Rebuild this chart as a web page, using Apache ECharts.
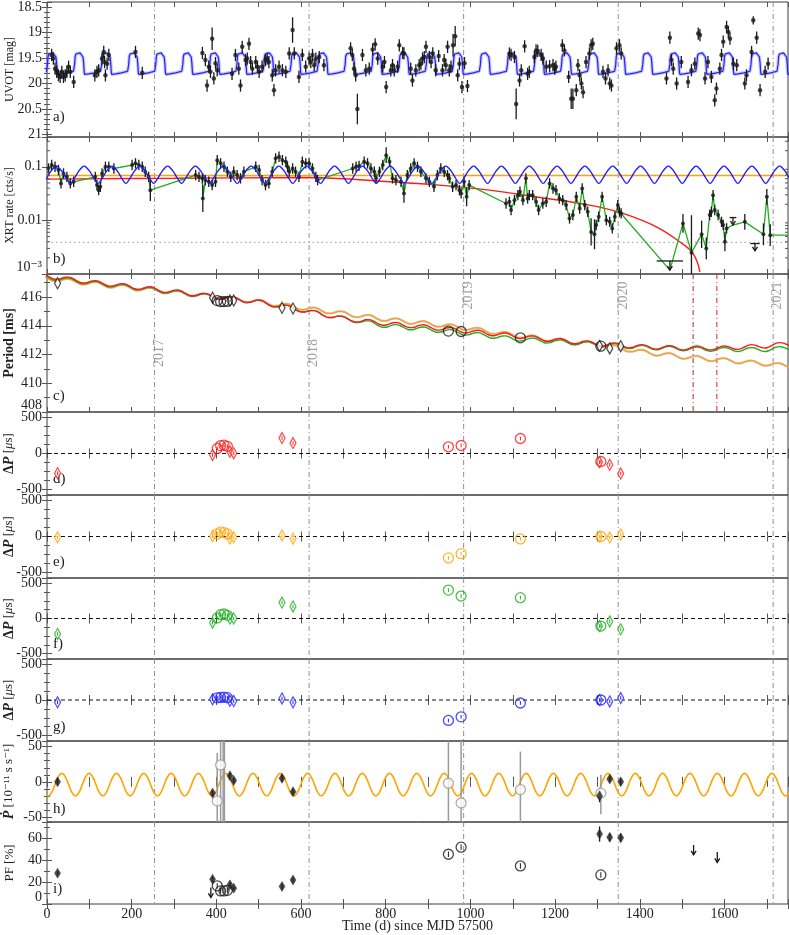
<!DOCTYPE html>
<html><head><meta charset="utf-8">
<script src="https://cdn.jsdelivr.net/npm/echarts/dist/echarts.min.js"></script>
<style>html,body{margin:0;padding:0;background:#fff}#c{width:789px;height:935px}</style>
</head><body><div id="c"></div>
<script>
// ---------------- DATA ----------------
const X_MIN = 0, X_MAX = 1750;
const YEAR_LINES = [254, 619, 984, 1349, 1715];
const YEAR_TEXT = ['2017', '2018', '2019', '2020', '2021'];
const YEAR_TEXT_POS = [[266, 412.1], [628, 412.1], [994, 416.1], [1360, 416.1], [1724, 416.1]];
const RED_LINES = [1526, 1582];

// a) UVOT magnitudes [t, mag, err?]
const UVOT_ERR = 0.12;
const uvotData = [
[11,19.44],[15,19.51],[19,19.71],[23,19.77],[27,19.84],[31,19.87],[35,19.77],[39,19.87],[43,19.84],[47,19.77],[51,19.67],[55,19.77],[63,19.97],
[113,19.84],[118,19.77],[122,19.74],[130,19.51],[134,19.38],[136,19.58],[138,19.84],[142,19.61],[146,19.44],
[209,19.38],[225,19.79],
[367,19.40],[374,19.54],[378,20.04],[382,19.67],[386,19.77],[390,19.12,0.22],[394,19.90],[398,19.60],[402,19.74],
[437,19.81],[445,19.44],[453,19.71],[457,20.04],[461,19.28],[469,19.54],[473,19.51],[477,19.22],[481,19.58],[485,19.71],[493,19.58],[497,19.67],[501,19.77],[508,19.67],[516,19.54],[520,19.51],[524,19.58],[532,19.84],[536,20.13],[540,19.74],[548,19.67],[556,19.74],[564,19.77],[572,19.41],[580,18.95,0.25],[584,19.41],[595,19.87],[603,19.44],[611,19.67],[619,19.51],[623,19.58],[627,19.44],[631,19.64],[635,19.51],[643,19.48],[654,19.64],
[717,19.31],[721,19.44],[725,19.71],[729,19.84],[733,20.50,0.3],[745,19.44],[753,19.74],[761,19.71],[769,19.33],[775,19.23],[781,19.51],[793,19.67],[797,19.58],[801,20.07],
[812,19.74],[816,19.64],[820,19.74],[828,19.67],[832,19.25],[840,19.40],[843,19.41],[859,19.71],[863,19.94],[871,19.74],[879,19.64],[883,19.61],[887,19.51],[891,19.48],[895,19.28],[903,19.48],[907,19.58],[911,19.41],[918,19.74],[925,19.46],[934,19.74],[938,19.54],[942,19.64],[946,19.28],[950,19.74],[954,19.67],[959,19.25,0.22],[964,19.07,0.2],[970,19.84],[974,19.61],[980,20.07],[986,19.60],[993,20.05],
[1092,19.41],[1096,19.44],[1104,19.48],[1108,20.40,0.3],[1116,19.94],[1120,19.74],[1128,19.27],[1135,19.81],[1139,19.77],[1151,19.48],[1155,19.35],[1159,19.36],[1167,19.44],[1171,19.51],[1179,19.67],[1187,19.66],[1195,19.64],[1199,19.71],[1202,19.67],[1217,19.25],[1222,19.35],[1232,19.87],[1238,20.30,0.2],[1242,20.30,0.2],[1250,20.13],[1254,19.64],[1258,19.84],[1262,20.0],[1266,20.17],[1273,19.58],[1281,19.41],[1285,19.25],[1289,19.22],[1313,19.77],[1319,19.90],[1325,19.74],[1329,20.0],[1333,20.04],[1345,19.31],[1352,19.25],[1356,19.41],
[1463,19.90],[1471,19.10],[1475,19.54],[1479,19.71],[1487,20.0],[1498,19.58],[1514,19.97],[1522,19.74],[1530,19.61],[1538,19.02],[1542,19.05],[1554,19.90],[1561,19.58],[1569,19.87],[1577,20.33],[1581,20.10],[1589,19.71],[1593,19.44],[1597,19.18],[1605,18.89],[1609,18.99],[1613,19.12],[1621,19.61],[1629,19.64],[1648,20.0],[1652,19.84],[1664,19.38],[1668,18.76,0.08],[1676,19.10],[1684,20.13],[1696,19.77],[1703,19.61]
];
// a) optical model: one orbital cycle profile [phase fraction, mag], period & start (read from picture)
const UVOT_MODEL_PERIOD = 63.9, UVOT_MODEL_T0 = 0;
const uvotModelProfile = [[0,19.79],[0.02,19.62],[0.04,19.47],[0.07,19.42],[0.14,19.39],[0.22,19.40],[0.29,19.43],[0.33,19.48],[0.355,19.60],[0.375,19.78],[0.39,19.82],[0.55,19.81],[0.75,19.79],[0.9,19.77],[0.98,19.76]];

// b) XRT rate [t, rate, errFactor?]
const XRT_ERR = 1.25;
const xrtData = [
[3.5,0.093],[11,0.108],[19,0.10],[27,0.087],[33,0.049],[39,0.075],[47,0.065],[55,0.049],[63,0.0525],
[114,0.065],[118,0.0456],[122,0.0367],[126,0.0424],[130,0.075],[138,0.10],[146,0.10],[158,0.093],
[201,0.108],[209,0.116],[217,0.108],[225,0.10],[232,0.081],[240,0.065],[244,0.0367,1.6],
[351,0.070],[359,0.065],[367,0.061],[368,0.0257,1.8],[374,0.0565],[382,0.0525],[390,0.0456],[398,0.0525],[402,0.133],[410,0.116],[418,0.10],[426,0.081],[434,0.065],[441,0.081],[449,0.070],[457,0.061],[465,0.081],
[493,0.10],[501,0.087],[508,0.0565],[516,0.0456],[524,0.049],[532,0.081],[540,0.144],[548,0.154],[556,0.133],[564,0.124],[568,0.10],[572,0.081],[580,0.093],[587,0.081],[595,0.065],[603,0.124],[611,0.116],[619,0.116],[627,0.093],[635,0.065],[639,0.0565],
[722,0.093],[730,0.10],[737,0.104],[749,0.124],[757,0.116],[765,0.093],[773,0.081],[777,0.061],[785,0.081],[793,0.108],[801,0.165,1.4],[809,0.124],
[816,0.061],[824,0.0565],[836,0.0525],[843,0.0319,1.5],[851,0.07],[859,0.093],[867,0.116],[875,0.10],[883,0.081],[895,0.061],[903,0.0525],[914,0.0424],[922,0.07],[930,0.093],[938,0.081],[946,0.07],[950,0.061],[958,0.0424],[966,0.0456],[974,0.0367],[978,0.0319],[985,0.0525],[991,0.0275,1.5],[997,0.0456],
[1084,0.0207],[1092,0.0222],[1096,0.0156],[1104,0.0239],[1112,0.0296],[1117,0.0342],[1124,0.0239],[1131,0.061],[1135,0.0257],[1139,0.0296],[1147,0.0296],[1155,0.0222],[1161,0.0156],[1171,0.0207],[1179,0.0222],[1187,0.049],[1195,0.0395],[1202,0.0367],[1210,0.0257],[1218,0.0239],[1226,0.0193],[1234,0.0109],[1242,0.0126],[1250,0.0275],[1258,0.0167],[1264,0.0395],[1270,0.0193],[1277,0.0145],[1285,0.0061,1.8],[1293,0.0055,1.9],[1297,0.0082],[1303,0.0117],[1311,0.0275],[1321,0.0101],[1329,0.0094],[1335,0.0071],[1341,0.0117],[1348,0.0193],[1352,0.0145],[1356,0.0135],
[1502,0.0088,1.5],[1522,0.0025,5],[1546,0.0055,1.8],[1557,0.0030,1.6],[1565,0.0126],[1569,0.0145],[1573,0.0296],[1577,0.0156],[1585,0.0126],[1593,0.0094],[1597,0.0082],[1601,0.0040,1.5],[1605,0.0071],[1648,0.0094,1.4],[1692,0.0055,1.6],[1700,0.0275,1.4],[1708,0.0053,1.6]
];
// upper limits [t, limit, arrow tip, half width (d)]
const xrtUpper = [[1471,0.00175,0.00118,31],[1620,0.0113,0.0082,8],[1672,0.0037,0.0027,11]];
// extra vertices of the interpolation line (to the limit and to the right edge)
const xrtLineExtra = [[1471,0.00118],[1620,0.0082],[1750,0.0053]];
const XRT_DETECTION_LEVEL = 0.0039;
const XRT_ORANGE_LEVEL = 0.069;
const xrtRedKnots = [[0,0.059],[300,0.061],[600,0.063],[700,0.060],[808,0.0525],[926,0.0456],[1045,0.0367],[1160,0.027],[1281,0.0193],[1360,0.0135],[1439,0.0076],[1494,0.004],[1526,0.0024],[1542,0.0011]];
const XRT_MODEL_PERIOD = 65.7, XRT_MODEL_T0 = 54.9; // trough epoch
const xrtModelProfile = [[0,0.049],[0.1,0.056],[0.2,0.068],[0.3,0.082],[0.4,0.095],[0.5,0.103],[0.6,0.095],[0.7,0.082],[0.8,0.068],[0.9,0.056]];

// c) spin period (ms)
const periodKnotT = [0,100,200,300,400,500,600,700,800,900,1000,1100,1200,1300,1400,1500,1600,1700,1750];
const periodRed    = [417.45,417.05,416.72,416.38,416.02,415.65,415.1,414.5,414.15,413.9,413.6,413.3,413.0,412.75,412.55,412.45,412.45,412.6,412.75];
const periodGreen  = [417.38,417.0,416.68,416.33,416.0,415.65,415.1,414.5,414.0,413.75,413.45,413.1,412.9,412.7,412.5,412.4,412.35,412.35,412.45];
const periodOrange = [417.3,416.95,416.63,416.32,416.0,415.67,415.25,414.85,414.45,414.15,413.8,413.35,413.0,412.7,412.2,411.85,411.6,411.35,411.2];
const ORBIT_PERIOD = 64.5, PDOT_PEAK_T0 = 35;
const RIPPLE_AMP = 0.14;
const rippleProfile = [[0,1],[0.125,0.71],[0.25,0],[0.375,-0.71],[0.5,-1],[0.625,-0.71],[0.75,0],[0.875,0.71]];
const periodDiamonds = [[25,416.95],[391,415.95],[432,415.75],[441,415.75],[555,415.25],[581,415.2],[1305,412.6],[1329,412.42],[1355,412.58]];
const periodCircles = [[402,415.75],[410,415.68],[418,415.68],[426,415.7],[948,413.63],[978,413.6],[1118,413.16],[1308,412.58]];

// d-g) period residuals (µs)
const DIAMOND_T = [25, 391, 432, 441, 555, 581, 1305, 1329, 1355];
const CIRCLE_T = [402, 410, 418, 426, 948, 978, 1118, 1308];
const dpRedD = [-272,-20,25,5,214,144,-120,-157,-278];
const dpRedC = [70,110,115,100,93,111,208,-111];
const dpOrangeD = [-12,5,-27,-12,15,-30,0,-14,27];
const dpOrangeC = [36,63,55,35,-297,-238,-33,0];
const dpGreenD = [-219,-60,0,0,226,171,-107,-42,-153];
const dpGreenC = [8,55,64,45,403,319,296,-107];
const dpBlueD = [-33,10,-12,-15,22,-33,0,-20,28];
const dpBlueC = [30,36,40,33,-287,-236,-42,0];
const DP_ERR = 25;

// h) Pdot (1e-11 s/s)
const pdotDiamonds = [[25,0,4],[391,-16,4],[432,8.6,4],[441,2,4],[555,5,5],[581,-14,4],[1305,-20,9],[1329,4,4],[1355,0,4]];
const pdotCircles = [[402,-27,-57,41],[410,24,-57,58],[948,-2,-57,58],[978,-30,-57,58],[1118,-11,-57,43],[1308,-16,-46,10]];
const pdotBarsOnly = [[416,-57,58],[419,-57,58]];
const PDOT_MODEL_PERIOD = 64.5;
const pdotModelProfile = [[0,12],[0.125,7.3],[0.25,-4],[0.375,-15.3],[0.5,-20],[0.625,-15.3],[0.75,-4],[0.875,7.3]];

// i) pulsed fraction (%)
const pfDiamonds = [[25,28.2,2],[391,22.7,2.5],[432,17.5,2.5],[441,14.5,2],[555,16,2.5],[581,22,2.5],[1305,64,7],[1329,61,3.5],[1355,60.5,3.5]];
const pfCircles = [[402,16.6],[410,12],[418,12],[426,12.5],[948,45.5],[978,52],[1118,34.8],[1308,26.6]];
const pfUpper = [[387,15,6],[1527,54,45],[1583,47.5,38]];

const PANEL_LABELS = ['a)','b)','c)','d)','e)','f)','g)','h)','i)'];

// ---------------- LAYOUT ----------------
const FONT = '"Liberation Serif", "DejaVu Serif", serif';
const PANELS = [
  {top:2, h:135}, {top:137, h:137}, {top:274, h:138}, {top:412, h:83}, {top:495, h:83},
  {top:578, h:81}, {top:659, h:82}, {top:741, h:81}, {top:822, h:82}
];
const LABEL_Y = [119, 261, 398, 481, 564, 646, 729, 811, 891];
const YCFG = [
  {min:18.4, max:21.05, inverse:true, splitNumber:5, minor:5, hideMin:true, hideMax:true, name:'UVOT [mag]', nameSize:12, bold:false},
  {type:'log', min:0.001, max:0.36, name:'XRT rate [cts/s]', nameSize:12, bold:false},
  {min:408, max:417.6, splitNumber:5, minor:2, hideMin:false, hideMax:true, name:'Period [ms]', nameSize:14, bold:true},
  {min:-575, max:575, splitNumber:2, minor:4, hideMin:true, hideMax:true, name:'dp'},
  {min:-575, max:575, splitNumber:2, minor:4, hideMin:true, hideMax:true, name:'dp'},
  {min:-575, max:575, splitNumber:2, minor:4, hideMin:true, hideMax:true, name:'dp'},
  {min:-575, max:575, splitNumber:2, minor:4, hideMin:true, hideMax:true, name:'dp'},
  {min:-57, max:58, splitNumber:2, minor:5, hideMin:true, hideMax:true, name:'pdot'},
  {min:0, max:75, splitNumber:4, minor:2, hideMin:false, hideMax:true, name:'PF [%]', nameSize:13, bold:false}
];
const COL = {red:'#ff1a1a', orange:'#ffa500', green:'#1fae1f', blue:'#1f1fff', black:'#1a1a1a', gray:'#9a9a9a'};

// ---------------- HELPERS ----------------
const series = [];
const ax = i => ({xAxisIndex: 2*i, yAxisIndex: 2*i});
function tileProfile(profile, period, t0) {
  const out = [];
  const k0 = Math.floor((X_MIN - t0) / period) - 1, k1 = Math.ceil((X_MAX - t0) / period) + 1;
  for (let k = k0; k <= k1; k++) for (const [f, v] of profile) out.push([t0 + (k + f) * period, v]);
  return out;
}
function trendAt(vals, t) {
  if (t <= periodKnotT[0]) return vals[0];
  for (let j = 1; j < periodKnotT.length; j++) {
    if (t <= periodKnotT[j]) {
      const a = periodKnotT[j-1], b = periodKnotT[j];
      return vals[j-1] + (vals[j] - vals[j-1]) * (t - a) / (b - a);
    }
  }
  return vals[vals.length - 1];
}
function periodCurve(vals) {
  const t0 = PDOT_PEAK_T0 + ORBIT_PERIOD / 4;
  return tileProfile(rippleProfile, ORBIT_PERIOD, t0).map(([t, r]) => [t, trendAt(vals, t) + RIPPLE_AMP * r]);
}
function addLine(i, data, color, width, extra) {
  series.push(Object.assign({type:'line', ...ax(i), data, symbol:'none', silent:true,
    lineStyle:{color, width}, z:2}, extra || {}));
}
function addErr(i, data, color, width, z) { // data [x, lo, hi]
  series.push({type:'custom', ...ax(i), data, silent:true, clip:true, z: z || 3,
    encode:{x:0, y:[1,2]},
    renderItem(params, api) {
      const x = api.value(0), p1 = api.coord([x, api.value(1)]), p2 = api.coord([x, api.value(2)]);
      return {type:'line', shape:{x1:p1[0], y1:p1[1], x2:p2[0], y2:p2[1]}, style:{stroke:color, lineWidth:width}};
    }});
}
function addUpper(i, data, color) { // data [x, top, tip, halfWidth]
  series.push({type:'custom', ...ax(i), data, silent:true, clip:false, z:4,
    encode:{x:0, y:[1,2]},
    renderItem(params, api) {
      const x = api.value(0), top = api.value(1), tip = api.value(2), hw = api.value(3) || 0;
      const pt = api.coord([x, top]), pb = api.coord([x, tip]);
      const ch = [];
      if (hw > 0) {
        const pl = api.coord([x - hw, top]), pr = api.coord([x + hw, top]);
        ch.push({type:'line', shape:{x1:pl[0], y1:pl[1], x2:pr[0], y2:pr[1]}, style:{stroke:color, lineWidth:1.3}});
      }
      ch.push({type:'line', shape:{x1:pt[0], y1:pt[1], x2:pb[0], y2:pb[1]}, style:{stroke:color, lineWidth:1.3}});
      ch.push({type:'polyline', shape:{points:[[pb[0]-2.5, pb[1]-4],[pb[0], pb[1]],[pb[0]+2.5, pb[1]-4]]}, style:{stroke:color, fill:null, lineWidth:1.3}});
      return {type:'group', children:ch};
    }});
}
function addScatter(i, data, symbol, size, fill, border, bw, z) {
  series.push({type:'scatter', ...ax(i), data, symbol, symbolSize:size, silent:true, z: z || 5,
    itemStyle:{color:fill, borderColor:border, borderWidth:bw}});
}
function addVLines(i, xs, yRef, color, dash) {
  series.push({type:'custom', ...ax(i), data: xs.map(x => [x, yRef]), silent:true, z:1,
    renderItem(params, api) {
      const p = api.coord([api.value(0), api.value(1)]);
      const cs = params.coordSys;
      return {type:'line', shape:{x1:p[0], y1:cs.y, x2:p[0], y2:cs.y + cs.height}, style:{stroke:color, lineWidth:1, lineDash:dash}};
    }});
}

// ---------------- SERIES ----------------
const Y_REF = [19, 0.01, 412, 0, 0, 0, 0, 0, 20];
for (let i = 0; i < 9; i++) addVLines(i, YEAR_LINES, Y_REF[i], '#8f8f8f', [5,3,1,3]);

// a)
const uvotModel = tileProfile(uvotModelProfile, UVOT_MODEL_PERIOD, UVOT_MODEL_T0);
addLine(0, uvotModel, 'rgba(120,120,255,0.4)', 3.5);
addLine(0, uvotModel, COL.blue, 1.2);
addErr(0, uvotData.map(d => [d[0], d[1] - (d[2] || UVOT_ERR), d[1] + (d[2] || UVOT_ERR)]), COL.black, 1.3, 4);
addScatter(0, uvotData.map(d => [d[0], d[1]]), 'circle', 4.5, COL.black, COL.black, 0, 6);

// b)
addLine(1, [[X_MIN, XRT_DETECTION_LEVEL], [X_MAX, XRT_DETECTION_LEVEL]], '#9a9a9a', 1, {lineStyle:{color:'#9a9a9a', width:1, type:[1.5,3]}});
addLine(1, [[X_MIN, XRT_ORANGE_LEVEL], [X_MAX, XRT_ORANGE_LEVEL]], COL.orange, 1.6);
addLine(1, xrtRedKnots, COL.red, 1.4, {smooth:0.4});
const xrtLine = xrtData.map(d => [d[0], d[1]]).concat(xrtLineExtra).sort((a, b) => a[0] - b[0]);
addLine(1, xrtLine, COL.green, 1.3, {z:3});
addErr(1, xrtData.map(d => [d[0], d[1] / (d[2] || XRT_ERR), d[1] * (d[2] || XRT_ERR)]), COL.black, 1.3, 4);
addScatter(1, xrtData.map(d => [d[0], d[1]]), 'circle', 4, COL.black, COL.black, 0, 6);
addUpper(1, xrtUpper, COL.black);
addLine(1, tileProfile(xrtModelProfile, XRT_MODEL_PERIOD, XRT_MODEL_T0), COL.blue, 1.4, {smooth:0.5, z:7});
// log minor ticks
const LOG_MINOR = [0.002,0.003,0.004,0.005,0.006,0.007,0.008,0.009,0.02,0.03,0.04,0.05,0.06,0.07,0.08,0.09,0.2,0.3];
series.push({type:'custom', ...ax(1), data: LOG_MINOR.map(v => [X_MIN, v]), silent:true, clip:false, z:8,
  renderItem(params, api) {
    const v = api.value(1), pl = api.coord([X_MIN, v]), pr = api.coord([X_MAX, v]);
    return {type:'group', children:[
      {type:'line', shape:{x1:pl[0], y1:pl[1], x2:pl[0]+3, y2:pl[1]}, style:{stroke:'#555', lineWidth:1}},
      {type:'line', shape:{x1:pr[0], y1:pr[1], x2:pr[0]-3, y2:pr[1]}, style:{stroke:'#555', lineWidth:1}}]};
  }});

// c)
addLine(2, periodCurve(periodOrange), 'rgba(175,165,235,0.7)', 2.2, {smooth:0.5});
addLine(2, periodCurve(periodOrange), COL.orange, 1.3, {smooth:0.5});
addLine(2, periodCurve(periodGreen), COL.green, 1.4, {smooth:0.5});
addLine(2, periodCurve(periodRed), COL.red, 1.4, {smooth:0.5});
addVLines(2, [RED_LINES[0]], 412, '#a52a2a', [5,3,1,3]);
addVLines(2, [RED_LINES[1]], 412, '#e02020', [5,3,1,3]);
addScatter(2, periodDiamonds, 'diamond', [6,11], '#fff', COL.black, 1.3);
addScatter(2, periodCircles, 'circle', 10, 'rgba(0,0,0,0)', COL.black, 1.3);
series.push({type:'scatter', ...ax(2), silent:true, symbolSize:0, z:1,
  data: YEAR_TEXT_POS.map((p, k) => ({value:p, name:YEAR_TEXT[k]})),
  label:{show:true, position:'inside', rotate:90, formatter:'{b}', color:'#8a8a8a', fontFamily:FONT, fontSize:14}});

// d-g)
const DP_SETS = [[dpRedD, dpRedC, COL.red], [dpOrangeD, dpOrangeC, COL.orange], [dpGreenD, dpGreenC, COL.green], [dpBlueD, dpBlueC, COL.blue]];
DP_SETS.forEach(([dv, cv, c], k) => {
  const i = 3 + k;
  addLine(i, [[X_MIN, 0], [X_MAX, 0]], '#111', 1.2, {lineStyle:{color:'#111', width:1.2, type:[4,3]}});
  const dd = DIAMOND_T.map((t, j) => [t, dv[j]]), cc = CIRCLE_T.map((t, j) => [t, cv[j]]);
  addScatter(i, dd, 'diamond', [6,11], '#fff', c, 1.3);
  addScatter(i, cc, 'circle', 10, 'rgba(0,0,0,0)', c, 1.3);
  addErr(i, dd.concat(cc).map(d => [d[0], d[1] - DP_ERR, d[1] + DP_ERR]), c, 1, 6);
});

// h)
addLine(7, tileProfile(pdotModelProfile, PDOT_MODEL_PERIOD, PDOT_PEAK_T0), COL.orange, 1.6, {smooth:0.5});
addErr(7, pdotCircles.map(d => [d[0], d[2], d[3]]).concat(pdotBarsOnly), COL.gray, 1.5, 3);
addScatter(7, pdotCircles.map(d => [d[0], d[1]]), 'circle', 10, '#fff', COL.gray, 1.3);
addErr(7, pdotDiamonds.map(d => [d[0], d[1] - d[2], d[1] + d[2]]), COL.black, 1.3, 4);
addScatter(7, pdotDiamonds.map(d => [d[0], d[1]]), 'diamond', [6,10], '#222', '#222', 0.5);

// i)
addErr(8, pfDiamonds.map(d => [d[0], d[1] - d[2], d[1] + d[2]]), COL.black, 1.3, 4);
addScatter(8, pfDiamonds.map(d => [d[0], d[1]]), 'diamond', [6,10], '#222', '#222', 0.5);
addErr(8, pfCircles.map(d => [d[0], d[1] - 2.5, d[1] + 2.5]), COL.black, 1, 4);
addScatter(8, pfCircles, 'circle', 10, 'rgba(0,0,0,0)', COL.black, 1.3);
addUpper(8, pfUpper.map(d => [d[0], d[1], d[2], 0]), COL.black);

// ---------------- AXES ----------------
const grids = PANELS.map(p => ({left:47, width:741, top:p.top, height:p.h, show:true, borderColor:'#3c3c3c', borderWidth:1, containLabel:false, outerBoundsMode:'none'}));
const tickStyle = {inside:true, length:5, lineStyle:{color:'#555', width:1}};
const minorStyle = (n) => ({show:true, splitNumber:n, length:3, lineStyle:{color:'#555', width:1}});
const xAxes = [], yAxes = [];
PANELS.forEach((p, i) => {
  const base = {gridIndex:i, type:'value', min:X_MIN, max:X_MAX, interval:100, splitLine:{show:false}, axisLine:{show:false}, axisTick:tickStyle};
  xAxes.push(Object.assign({}, base, {position:'bottom',
    axisLabel: i === 8 ? {show:true, fontFamily:FONT, fontSize:14, color:'#222', margin:3,
      formatter: v => (v % 200 === 0 && v <= 1600) ? String(v) : ''} : {show:false},
    name: i === 8 ? 'Time (d) since MJD 57500' : '', nameLocation:'middle', nameGap:15, nameMoveOverlap:false,
    nameTextStyle:{fontFamily:FONT, fontSize:14, color:'#222'}}));
  xAxes.push(Object.assign({}, base, {position:'top', axisLabel:{show:false}}));
  const c = YCFG[i];
  const yb = {gridIndex:i, type:c.type || 'value', min:c.min, max:c.max, inverse:!!c.inverse, splitLine:{show:false}, axisLine:{show:false}, axisTick:tickStyle};
  if (c.type === 'log') { yb.logBase = 10; } else { yb.splitNumber = c.splitNumber; yb.minorTick = minorStyle(c.minor); }
  let nameStr = c.name, rich = {};
  if (c.name === 'dp') {
    nameStr = '{b|Δ}{bi|P} [{i|μ}s]';
    rich = {b:{fontWeight:'bold', fontSize:14, fontFamily:FONT}, bi:{fontWeight:'bold', fontStyle:'italic', fontSize:14, fontFamily:FONT}, i:{fontStyle:'italic', fontSize:13, fontFamily:FONT}};
  } else if (c.name === 'pdot') {
    nameStr = '{bi|Ṗ} [10⁻¹¹ s s⁻¹]';
    rich = {bi:{fontWeight:'bold', fontStyle:'italic', fontSize:14, fontFamily:FONT}};
  }
  const labelFmt = c.type === 'log'
    ? (v => { const e = Math.round(Math.log10(v)); if (Math.abs(Math.log10(v) - e) > 1e-6) return ''; return e === -1 ? '0.1' : e === -2 ? '0.01' : e === -3 ? '10⁻³' : ''; })
    : (v => String(v));
  yAxes.push(Object.assign({}, yb, {position:'left',
    axisLabel:{show:true, fontFamily:FONT, fontSize:14, color:'#222', margin:5, formatter:labelFmt,
      showMinLabel: c.type === 'log' ? true : !c.hideMin, showMaxLabel: c.type === 'log' ? false : !c.hideMax,
      verticalAlignMinLabel: c.inverse ? undefined : 'bottom'},
    name:nameStr, nameLocation:'middle', nameGap:31, nameRotate:90, nameMoveOverlap:false,
    nameTextStyle:{fontFamily:FONT, fontSize:c.nameSize || 13, fontWeight:c.bold ? 'bold' : 'normal', color:'#222', rich}}));
  yAxes.push(Object.assign({}, yb, {position:'right', axisLabel:{show:false}}));
});

const graphic = PANEL_LABELS.map((s, i) => ({type:'text', left:53, top:LABEL_Y[i] - 9,
  style:{text:s, font:'15px ' + FONT, fill:'#222'}, silent:true}));

const chart = echarts.init(document.getElementById('c'), null, {renderer:'canvas'});
chart.setOption({animation:false, backgroundColor:'#fff', grid:grids, xAxis:xAxes, yAxis:yAxes, series, graphic});
</script></body></html>
